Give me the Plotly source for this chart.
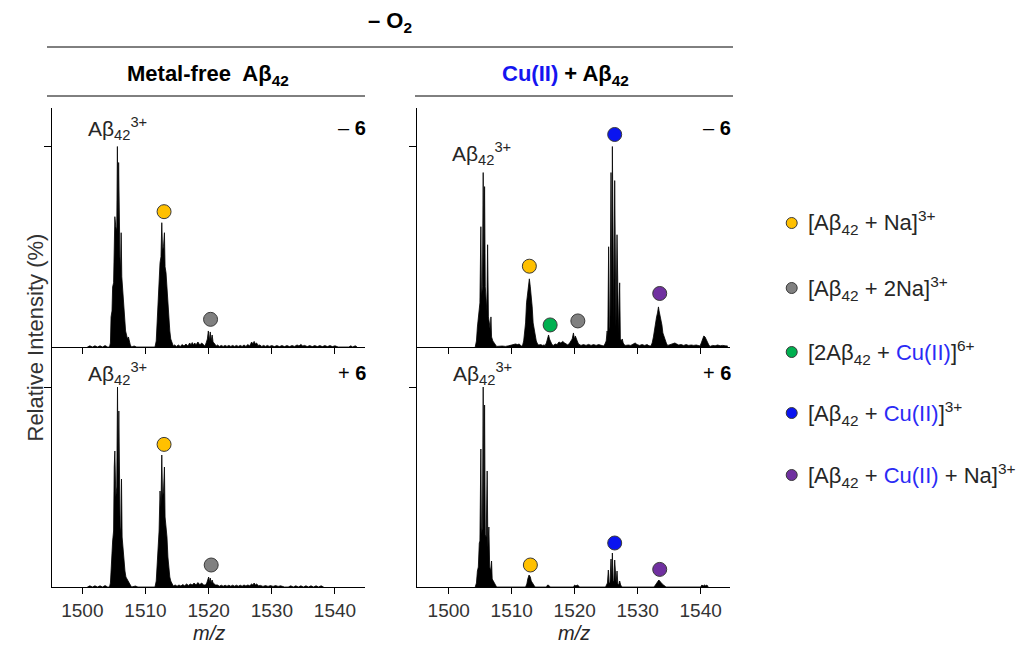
import plotly.graph_objects as go

W, H = 1027, 657

# ---------------- data (m/z, relative intensity %) ----------------
# Top-left: metal-free Abeta42, -6
tl_mz = [1500.8, 1501.2, 1501.6, 1502.0, 1502.4, 1502.8, 1503.2, 1503.6, 1504.0,
         1504.3, 1504.45, 1504.55, 1504.7, 1504.8, 1504.95, 1505.05, 1505.15, 1505.3, 1505.45,
         1505.55, 1505.65, 1505.75, 1505.85, 1505.95, 1506.05, 1506.15, 1506.25, 1506.4, 1506.55,
         1506.7, 1506.85, 1507.0, 1507.15, 1507.3, 1507.45, 1507.6, 1507.8, 1508.2, 1508.6,
         1511.5, 1511.7, 1511.85, 1512.0, 1512.15, 1512.3, 1512.45, 1512.58, 1512.7, 1512.85,
         1513.0, 1513.1, 1513.25, 1513.4, 1513.55, 1513.7, 1513.85, 1514.0, 1514.2, 1514.4,
         1514.6, 1514.9, 1515.2, 1515.5, 1515.8, 1516.1, 1516.4, 1516.7, 1517.0, 1517.2,
         1517.4, 1517.6, 1517.8, 1518.0, 1518.3, 1518.6, 1518.9, 1519.2,
         1519.4, 1519.6, 1519.8, 1519.95, 1520.1, 1520.25, 1520.4, 1520.55, 1520.7, 1520.85,
         1521.0, 1521.2, 1521.4, 1521.7, 1522.0, 1522.3, 1522.6, 1522.9, 1523.2, 1523.5,
         1523.8, 1524.1, 1524.4, 1524.7, 1525.0, 1525.3, 1525.6, 1525.9, 1526.2, 1526.5,
         1526.8, 1527.0, 1527.2, 1527.4, 1527.6, 1527.8, 1528.1, 1528.4, 1528.7, 1529.0,
         1529.3, 1529.6, 1530.0, 1530.4, 1530.8, 1531.2, 1531.6, 1532.0, 1532.4, 1532.8,
         1533.2, 1533.6, 1534.0, 1534.3, 1534.6, 1534.9, 1535.2, 1535.6, 1536.0, 1536.4,
         1536.8, 1537.2, 1537.6, 1538.0, 1538.4, 1538.8, 1539.2, 1539.6, 1540.0, 1540.5,
         1542.2, 1542.5, 1542.8, 1543.2, 1543.5]
tl_int = [0, 0.6, 0, 0.6, 0, 0.6, 0, 0.7, 0,
          0, 2, 15, 18, 30, 32, 64, 65, 60, 58,
          100, 62, 92, 50, 45, 38, 57, 35, 28, 22,
          12, 8, 6, 4, 5, 2, 1, 0, 0.5, 0,
          0, 3, 15, 18, 30, 42, 45, 62, 48, 50,
          57, 40, 37, 30, 22, 12, 8, 4, 2, 0.5,
          1, 0.3, 1, 0.3, 1.2, 0.5, 1.5, 0.5, 2, 1,
          2.2, 1, 2, 1, 2.5, 1, 2, 1,
          0.5, 2, 4, 8, 3, 7.5, 3, 6, 2.5, 2,
          1, 0.5, 1, 0.3, 0.8, 0.3, 0.8, 0.3, 0.8, 0.3,
          0.8, 0.3, 0.8, 0.3, 0.8, 0.3, 1, 0.3, 1.2, 0.5,
          2.5, 1.5, 2.8, 1.5, 2, 0.8, 1, 0.3, 0.8, 0.3,
          0.8, 0.3, 0.7, 0.2, 0.7, 0.2, 0.7, 0.2, 0.7, 0.2,
          0.7, 0.3, 1, 0.5, 1.3, 0.5, 0.8, 0.2, 0.7, 0.2,
          0.7, 0.2, 0.7, 0.2, 0.7, 0.2, 0.7, 0.2, 0.6, 0,
          0, 0.6, 0, 0.6, 0]

# Top-right: Cu(II) + Abeta42, -6
tr_mz = [1504.2, 1504.4, 1504.55, 1504.7, 1504.85, 1504.95, 1505.1, 1505.2, 1505.35, 1505.47,
         1505.58, 1505.69, 1505.8, 1505.95, 1506.05, 1506.17, 1506.3, 1506.45, 1506.6, 1506.7,
         1506.8, 1507.0, 1507.2, 1507.4, 1507.6, 1508.5, 1509.0, 1509.5, 1510.3, 1510.6,
         1510.9, 1511.2, 1511.5,
         1511.7, 1511.9, 1512.05, 1512.2, 1512.35, 1512.5, 1512.65, 1512.8, 1512.95, 1513.1,
         1513.25, 1513.4, 1513.55, 1513.7, 1513.9, 1514.1, 1514.3, 1514.6, 1514.9, 1515.1,
         1515.3, 1515.5, 1515.7, 1515.85, 1516.0, 1516.2, 1516.4, 1516.6, 1516.9, 1517.2,
         1517.5, 1517.8, 1518.1, 1518.4, 1518.7,
         1518.9, 1519.2, 1519.4, 1519.6, 1519.8, 1519.95, 1520.1, 1520.25, 1520.4, 1520.6,
         1520.8, 1521.0, 1521.4, 1521.8, 1522.2, 1522.6, 1523.0, 1523.4, 1523.8, 1524.2,
         1524.6, 1524.8, 1525.0, 1525.15, 1525.25, 1525.39, 1525.5, 1525.6, 1525.77, 1525.88,
         1525.98, 1526.1, 1526.2, 1526.35, 1526.47, 1526.55, 1526.72, 1526.85, 1526.97, 1527.14,
         1527.25, 1527.4, 1527.55, 1527.7, 1527.9, 1528.1, 1528.5, 1528.9, 1529.3, 1529.6,
         1529.9, 1530.3, 1530.7, 1531.1, 1531.5, 1531.8,
         1532.1, 1532.3, 1532.5, 1532.7, 1532.85, 1533.0, 1533.15, 1533.3, 1533.4, 1533.55,
         1533.7, 1533.85, 1534.0, 1534.2, 1534.4, 1534.6, 1534.8, 1535.2, 1535.6, 1535.9,
         1536.2, 1536.5, 1536.9, 1537.3, 1537.7, 1538.1, 1538.5, 1538.9, 1539.3, 1539.6,
         1539.9, 1540.1, 1540.3, 1540.5, 1540.7, 1540.9, 1541.1, 1541.3, 1541.5, 1541.9,
         1542.3, 1542.7, 1543.1, 1543.5, 1543.9, 1544.3]
tr_int = [0, 3, 10, 14, 20, 22, 60, 25, 30, 87,
          40, 80, 30, 20, 18, 51, 15, 12, 8, 15,
          5, 3, 2, 1, 0.3, 0.5, 0.3, 0.6, 1, 1.5,
          1.2, 1.5, 0.5,
          0.5, 3, 8, 12, 22, 26, 30, 34, 30, 26,
          20, 12, 9, 5, 3, 1.5, 1, 1.2, 0.8, 1,
          0.8, 2, 4.5, 6, 4, 2.5, 1.2, 0.8, 1.5, 1.2,
          2.5, 2, 2.8, 2, 1.5,
          1, 2, 3, 4, 7, 4, 5.5, 3.5, 3, 1.5,
          1, 0.8, 1.2, 0.8, 1.3, 0.8, 1.2, 0.8, 1.2, 0.8,
          0.5, 1.5, 3, 8, 4, 50, 8, 10, 87, 15,
          100, 15, 12, 83, 12, 10, 56, 8, 6, 32,
          4, 3, 4, 2, 1, 0.8, 1, 0.8, 1.5, 2,
          1.2, 0.8, 1.2, 0.8, 1.2, 0.6,
          0.5, 2, 5, 10, 14, 15, 17, 20, 18, 16,
          13, 11, 7, 5, 3, 1.5, 0.8, 1.2, 1.5, 2,
          1.5, 1, 1.2, 0.8, 1.2, 0.8, 1, 0.8, 1, 0.6,
          0.5, 2, 4.5, 5.5, 5, 3.5, 2, 1, 0.3, 0.8,
          0.6, 1, 0.6, 0.8, 0.6, 0.5]

# Bottom-left: metal-free Abeta42, +6
bl_mz = [1500.8, 1501.2, 1501.6, 1502.0, 1502.4, 1502.8, 1503.2, 1503.6, 1504.0,
         1504.3, 1504.45, 1504.55, 1504.7, 1504.8, 1504.95, 1505.05, 1505.15, 1505.3, 1505.45,
         1505.57, 1505.67, 1505.78, 1505.88, 1505.98, 1506.08, 1506.2, 1506.3, 1506.45, 1506.6,
         1506.75, 1506.9, 1507.05, 1507.2, 1507.4, 1507.6, 1507.8, 1508.4, 1508.8,
         1511.5, 1511.7, 1511.85, 1512.0, 1512.15, 1512.3, 1512.45, 1512.58, 1512.7, 1512.85,
         1513.0, 1513.1, 1513.25, 1513.4, 1513.55, 1513.7, 1513.85, 1514.0, 1514.2, 1514.4,
         1514.7, 1515.0, 1515.3, 1515.6, 1515.9, 1516.2, 1516.5, 1516.8, 1517.1, 1517.4,
         1517.7, 1518.0, 1518.3, 1518.6, 1518.9, 1519.2,
         1519.5, 1519.7, 1519.85, 1520.0, 1520.1, 1520.25, 1520.4, 1520.55, 1520.7, 1520.9,
         1521.1, 1521.4, 1521.7, 1522.0, 1522.3, 1522.6, 1522.9, 1523.2, 1523.5, 1523.8,
         1524.1, 1524.4, 1524.7, 1525.0, 1525.3, 1525.6, 1525.9, 1526.2, 1526.5, 1526.8,
         1527.0, 1527.2, 1527.4, 1527.6, 1527.9, 1528.2, 1528.6, 1529.0, 1529.4, 1529.8,
         1530.2, 1530.6, 1531.0, 1531.4, 1532.0, 1532.6, 1533.0, 1533.4, 1533.8, 1534.2,
         1534.6, 1535.0, 1535.4, 1535.8, 1536.2, 1536.6, 1537.0, 1537.4, 1537.8, 1538.2]
bl_int = [0, 0.6, 0, 0.6, 0, 0.6, 0, 0.7, 0,
          0, 2, 12, 17, 23, 28, 60, 68, 45, 50,
          100, 55, 88, 40, 30, 27, 54, 25, 18, 12,
          8, 5, 4, 3, 2, 1, 0, 0.5, 0,
          0, 3, 10, 17, 28, 48, 40, 66, 45, 48,
          60, 35, 31, 25, 15, 8, 5, 3, 1.5, 0.5,
          1, 0.4, 1, 0.5, 1.2, 0.6, 1.5, 0.8, 1.5, 1,
          2, 1, 2.2, 1.2, 2, 1,
          1, 2, 3.5, 5, 2.5, 4.5, 2, 3.5, 2, 1.5,
          1, 1, 0.4, 0.9, 0.4, 0.9, 0.4, 0.9, 0.4, 0.9,
          0.4, 0.9, 0.4, 0.9, 0.4, 1, 0.5, 1, 0.6, 1.5,
          1, 2, 1, 1.5, 0.6, 0.8, 0.3, 0.7, 0.3, 0.7,
          0.3, 0.7, 0.3, 0.6, 0, 0, 0.6, 0, 0.6, 0,
          0.6, 0, 0.6, 0, 0.6, 0, 0.6, 0, 0.6, 0]

# Bottom-right: Cu(II) + Abeta42, +6
br_mz = [1504.2, 1504.4, 1504.55, 1504.7, 1504.85, 1504.95, 1505.1, 1505.2, 1505.35, 1505.47,
         1505.58, 1505.69, 1505.8, 1505.95, 1506.1, 1506.22, 1506.37, 1506.5, 1506.65, 1506.8,
         1506.9, 1507.05, 1507.2, 1507.4, 1507.6,
         1512.2, 1512.4, 1512.55, 1512.75, 1512.95, 1513.1, 1513.3, 1513.5, 1513.7,
         1515.5, 1515.7, 1515.9, 1516.1, 1519.8, 1520.0, 1520.2, 1520.4, 1520.6, 1520.8,
         1524.9, 1525.1, 1525.2, 1525.34, 1525.45, 1525.6, 1525.77, 1525.88, 1525.98, 1526.1,
         1526.22, 1526.35, 1526.47, 1526.58, 1526.72, 1526.85, 1527.0, 1527.14, 1527.3, 1527.5,
         1532.6, 1532.8, 1533.0, 1533.2, 1533.36, 1533.5, 1533.7, 1533.9, 1534.1, 1534.3,
         1534.5, 1540.0, 1540.2, 1540.4, 1540.6, 1540.8, 1541.0, 1541.2]
br_int = [0, 2, 8, 10, 22, 23, 69, 26, 30, 100,
          28, 91, 26, 25, 58, 20, 30, 10, 8, 13,
          4, 3, 2, 1, 0,
          0, 1.5, 4, 6, 5, 3, 2, 1, 0,
          0, 1, 0.8, 0, 0, 1, 0.5, 1, 0.6, 0,
          0, 1, 2, 8.5, 2, 2, 14, 3, 17, 3,
          2.5, 13.5, 2, 2, 8, 1.5, 1, 3, 1, 0,
          0, 1, 2, 3, 3.5, 3, 2, 1.5, 1, 0.5,
          0, 0, 1, 0.5, 1, 0.6, 1, 0]

# annotated species markers (m/z, % position of marker)
species = ["[Aβ42 + Na]3+", "[Aβ42 + 2Na]3+", "[2Aβ42 + Cu(II)]6+",
           "[Aβ42 + Cu(II)]3+", "[Aβ42 + Cu(II) + Na]3+"]
species_colors = ["#FFC000", "#808080", "#00B050", "#0A14F0", "#7030A0"]
tl_mark_mz, tl_mark_y, tl_mark_sp = [1512.94, 1520.3], [67.5, 13.8], [0, 1]
tr_mark_mz, tr_mark_y, tr_mark_sp = [1512.8, 1516.1, 1520.5, 1526.35, 1533.5], [40.3, 11, 13, 106, 26.7], [0, 2, 1, 3, 4]
bl_mark_mz, bl_mark_y, bl_mark_sp = [1512.94, 1520.4], [71.3, 11], [0, 1]
br_mark_mz, br_mark_y, br_mark_sp = [1512.96, 1526.35, 1533.5], [11, 22, 8.8], [0, 3, 4]

x_ticks = [1500, 1510, 1520, 1530, 1540]

# ---------------- figure ----------------
def PX(x):
    return x / W

def PY(y):
    return 1 - y / H

TXT = "#262626"
FONT = "Liberation Sans, Arial, sans-serif"
BLUE_TXT = "#2B2BF5"

fig = go.Figure()

panels = [
    ("x", "y", tl_mz, tl_int, tl_mark_mz, tl_mark_y, tl_mark_sp),
    ("x2", "y2", tr_mz, tr_int, tr_mark_mz, tr_mark_y, tr_mark_sp),
    ("x3", "y3", bl_mz, bl_int, bl_mark_mz, bl_mark_y, bl_mark_sp),
    ("x4", "y4", br_mz, br_int, br_mark_mz, br_mark_y, br_mark_sp),
]
for xa, ya, mz, inten, mmz, my, msp in panels:
    fig.add_trace(go.Scatter(x=mz, y=inten, xaxis=xa, yaxis=ya, mode="lines",
                             line=dict(color="black", width=0.8), fill="tozeroy",
                             fillcolor="black", hoverinfo="skip", showlegend=False))
    fig.add_trace(go.Scatter(x=mmz, y=my, xaxis=xa, yaxis=ya, mode="markers",
                             marker=dict(size=14, color=[species_colors[i] for i in msp],
                                         line=dict(color="#3a3a3a", width=1)),
                             cliponaxis=False, showlegend=False, hoverinfo="skip"))

left_dom = [PX(52), PX(365)]
right_dom = [PX(417), PX(730)]
top_dom = [PY(347), PY(108)]
bot_dom = [PY(587), PY(347)]

xcommon = dict(showline=True, linecolor="black", linewidth=1, ticks="outside", ticklen=6,
               tickcolor="black", tickwidth=1, tickvals=x_ticks, showgrid=False, zeroline=False,
               tickfont=dict(size=19, color="#333333", family=FONT))
ycommon = dict(showline=True, linecolor="black", linewidth=1, ticks="outside", ticklen=7,
               tickcolor="black", tickwidth=1, tickvals=[100], showticklabels=False,
               showgrid=False, zeroline=False)

fig.update_layout(
    width=W, height=H, margin=dict(l=0, r=0, t=0, b=0),
    paper_bgcolor="white", plot_bgcolor="white",
    font=dict(family=FONT, color=TXT),
    xaxis=dict(domain=left_dom, anchor="y", range=[1495.2, 1544.75], showticklabels=False, **xcommon),
    yaxis=dict(domain=top_dom, anchor="x", range=[0, 119.2], **ycommon),
    xaxis2=dict(domain=right_dom, anchor="y2", range=[1494.96, 1544.66], showticklabels=False, **xcommon),
    yaxis2=dict(domain=top_dom, anchor="x2", range=[0, 119.2], **ycommon),
    xaxis3=dict(domain=left_dom, anchor="y3", range=[1495.2, 1544.75], showticklabels=True, **xcommon),
    yaxis3=dict(domain=bot_dom, anchor="x3", range=[0, 120], **ycommon),
    xaxis4=dict(domain=right_dom, anchor="y4", range=[1494.96, 1544.66], showticklabels=True, **xcommon),
    yaxis4=dict(domain=bot_dom, anchor="x4", range=[0, 120], **ycommon),
)

ann = []
def text(x, y, s, size=19, xanchor="center", color=TXT, **kw):
    ann.append(dict(x=PX(x), y=PY(y), xref="paper", yref="paper", text=s, showarrow=False,
                    xanchor=xanchor, yanchor="middle", font=dict(size=size, color=color, family=FONT), **kw))

ab = "Aβ<sub>42</sub>"
text(390, 22, "<b>– O<sub>2</sub></b>", size=22, color="black")
text(208, 75, "<b>Metal-free  " + ab + "</b>", size=22, color="black")
text(565, 75, "<b><span style='color:#1515F0'>Cu(II)</span> + " + ab + "</b>", size=22, color="black")
# panel labels
text(117, 128, ab + "<sup>3+</sup>", size=21)
text(481, 153, ab + "<sup>3+</sup>", size=21)
text(117, 373, ab + "<sup>3+</sup>", size=21)
text(482, 373, ab + "<sup>3+</sup>", size=21)
text(368, 128, "– <b>6</b>", size=20, xanchor="right", color="black")
text(733, 128, "– <b>6</b>", size=20, xanchor="right", color="black")
text(368, 373, "+ <b>6</b>", size=20, xanchor="right", color="black")
text(733, 373, "+ <b>6</b>", size=20, xanchor="right", color="black")
# axis titles
text(209, 633, "<i>m/z</i>", size=20)
text(574, 633, "<i>m/z</i>", size=20)
ann.append(dict(x=PX(20), y=PY(338), xref="paper", yref="paper", text="Relative Intensity (%)",
                showarrow=False, textangle=-90, font=dict(size=22, color="#333333", family=FONT)))

# legend
cu = "<span style='color:" + BLUE_TXT + "'>Cu(II)</span>"
legend_txt = ["[" + ab + " + Na]<sup>3+</sup>",
              "[" + ab + " + 2Na]<sup>3+</sup>",
              "[2" + ab + " + " + cu + "]<sup>6+</sup>",
              "[" + ab + " + " + cu + "]<sup>3+</sup>",
              "[" + ab + " + " + cu + " + Na]<sup>3+</sup>"]
leg_y = [223, 288, 352, 413, 475]
shapes = []
for i, (t, yy) in enumerate(zip(legend_txt, leg_y)):
    text(806, yy, t, size=22, xanchor="left")
    shapes.append(dict(type="circle", xref="paper", yref="paper",
                       x0=PX(791.7 - 5.5), x1=PX(791.7 + 5.5), y0=PY(yy + 5.5), y1=PY(yy - 5.5),
                       fillcolor=species_colors[i], line=dict(color="#3a3a3a", width=1)))

# title separator lines
for (x0, x1, yy) in [(47, 733, 47), (47, 365, 96), (415, 733, 96)]:
    shapes.append(dict(type="line", xref="paper", yref="paper", x0=PX(x0), x1=PX(x1),
                       y0=PY(yy), y1=PY(yy), line=dict(color="black", width=1)))

fig.update_layout(annotations=ann, shapes=shapes)
fig.write_html("out.html", config={"displayModeBar": False},
               post_script="document.body.style.margin='0px';")
